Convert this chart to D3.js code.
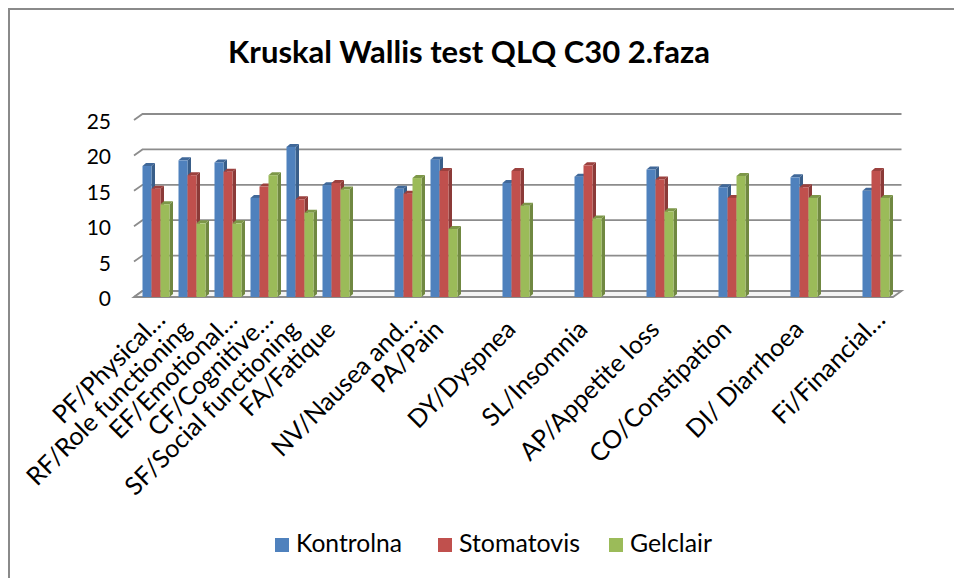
<!DOCTYPE html>
<html>
<head>
<meta charset="utf-8">
<script src="https://cdn.jsdelivr.net/npm/d3@7"></script>
<style>
  html, body { margin: 0; padding: 0; background: #fff; }
  svg { display: block; font-family: Lato, "Open Sans", sans-serif; }
</style>
</head>
<body>
<div id="chart"></div>
<script>
// data (blank slots are empty columns in the sheet)
var categories = ["PF/Physical…", "RF/Role functioning", "EF/Emotional…", "CF/Cognitive…",
  "SF/Social functioning", "FA/Fatique", "", "NV/Nausea and…", "PA/Pain", "", "DY/Dyspnea", "",
  "SL/Insomnia", "", "AP/Appetite loss", "", "CO/Constipation", "", "DI/ Diarrhoea", "", "Fi/Financial…"];
var seriesNames = ["Kontrolna", "Stomatovis", "Gelclair"];
var kontrolna  = [18.5, 19.3, 19.0, 14.0, 21.2, 15.8, null, 15.3, 19.4, null, 16.1, null, 17.0, null, 18.0, null, 15.5, null, 16.9, null, 15.0];
var stomatovis = [15.3, 17.2, 17.7, 15.6, 13.8, 16.1, null, 14.6, 17.8, null, 17.8, null, 18.6, null, 16.6, null, 14.0, null, 15.5, null, 17.8];
var gelclair   = [13.1, 10.4, 10.4, 17.2, 11.9, 15.2, null, 16.8, 9.6, null, 12.9, null, 11.1, null, 12.1, null, 17.1, null, 14.0, null, 14.0];
var yTicks = [0, 5, 10, 15, 20, 25];
var colors = ["#4f81bd", "#c0504d", "#9bbb59"];

var W = 954, H = 578;
var dx = 8.5, dy = -6;     // wall depth
var bdx = 3.5, bdy = -3;   // bar depth
var series = [kontrolna, stomatovis, gelclair];

var svg = d3.select('#chart').append('svg').attr('width', W).attr('height', H);

// chart border
svg.append('rect').attr('x', 9).attr('y', 9).attr('width', 1000).attr('height', 700)
  .attr('fill', 'none').attr('stroke', '#8a8a8a').attr('stroke-width', 2);

// title
var title = svg.append('text').attr('x', 469).attr('y', 63).attr('text-anchor', 'middle')
  .style('font-weight', 700).style('font-size', '26px').text('Kruskal Wallis test QLQ C30 2.faza');
fitWidth(title, 482, 26);

var y = d3.scaleLinear().domain([0, 25]).range([297, 120]);
var x = d3.scaleBand().domain(d3.range(categories.length)).range([138, 894])
  .paddingInner(0.25).paddingOuter(0.125);
var xs = d3.scaleBand().domain(d3.range(series.length)).range([0, x.bandwidth()]);
var left = 134, right = 893;

// gridlines (back wall)
svg.append('g').selectAll('path').data(yTicks).enter().append('path')
  .attr('d', function(v) {
    return 'M' + left + ',' + y(v) + 'L' + (left + dx) + ',' + (y(v) + dy) + 'L' + (right + dx) + ',' + (y(v) + dy);
  })
  .attr('fill', 'none').attr('stroke', '#8c8c8c').attr('stroke-width', 1.8);

// floor
svg.append('path')
  .attr('d', 'M' + left + ',' + y(0) + 'L' + right + ',' + y(0) + 'L' + (right + dx) + ',' + (y(0) + dy) + 'L' + (left + dx) + ',' + (y(0) + dy) + 'Z')
  .attr('fill', '#f4f4f4').attr('stroke', '#8c8c8c').attr('stroke-width', 1.8);

// y tick labels
svg.append('g').selectAll('text').data(yTicks).enter().append('text')
  .attr('x', 111).attr('y', function(v) { return y(v) + 9; })
  .attr('text-anchor', 'end').style('font-size', '21px').text(function(v) { return v; });

// bars
var bars = [];
categories.forEach(function(c, i) {
  series.forEach(function(s, j) {
    if (s[i] != null) bars.push({i: i, j: j, v: s[i]});
  });
});

var g = svg.append('g').selectAll('g').data(bars).enter().append('g');
function bx(d) { return x(d.i) + xs(d.j); }
var bw = xs.bandwidth();
g.append('polygon')
  .attr('points', function(d) {
    var x0 = bx(d) + bw, t = y(d.v), b = y(0);
    return [[x0, t], [x0 + bdx, t + bdy], [x0 + bdx, b + bdy], [x0, b]].join(' ');
  })
  .attr('fill', function(d) { return d3.color(colors[d.j]).darker(0.9); });
g.append('polygon')
  .attr('points', function(d) {
    var x0 = bx(d), t = y(d.v);
    return [[x0, t], [x0 + bdx, t + bdy], [x0 + bw + bdx, t + bdy], [x0 + bw, t]].join(' ');
  })
  .attr('fill', function(d) { return d3.color(colors[d.j]).darker(0.6); });
g.append('rect')
  .attr('x', bx).attr('y', function(d) { return y(d.v); })
  .attr('width', bw).attr('height', function(d) { return y(0) - y(d.v); })
  .attr('fill', function(d) { return colors[d.j]; });

// category labels, sized so "SL/Insomnia" runs about 137px like the original
var labels = svg.append('g').selectAll('text').data(categories).enter().append('text')
  .attr('text-anchor', 'end')
  .attr('dx', function(c) { return c.slice(-1) === '…' ? 14 : 0; })
  .attr('transform', function(c, i) {
    return 'translate(' + (x(i) + x.bandwidth() / 2 + 1) + ',331) rotate(-45)';
  })
  .style('font-size', '20px').text(function(c) { return c; });
var ref = labels.filter(function(c) { return c === 'SL/Insomnia'; }).node().getComputedTextLength();
labels.style('font-size', (20 * 137 / ref).toFixed(2) + 'px');

// legend
var legX = [275, 438, 609], legW = [106, 121, 82];
var leg = svg.append('g').selectAll('g').data(seriesNames).enter().append('g');
leg.append('rect').attr('x', function(d, i) { return legX[i]; }).attr('y', 538)
  .attr('width', 14).attr('height', 14).attr('fill', function(d, i) { return colors[i]; });
leg.append('text').attr('x', function(d, i) { return legX[i] + 21; }).attr('y', 552)
  .style('font-size', '21px').text(function(d) { return d; })
  .each(function(d, i) { fitWidth(d3.select(this), legW[i], 21); });

function fitWidth(sel, target, size) {
  var w = sel.node().getComputedTextLength();
  if (w > 0) sel.style('font-size', (size * target / w).toFixed(2) + 'px');
}
</script>
</body>
</html>
